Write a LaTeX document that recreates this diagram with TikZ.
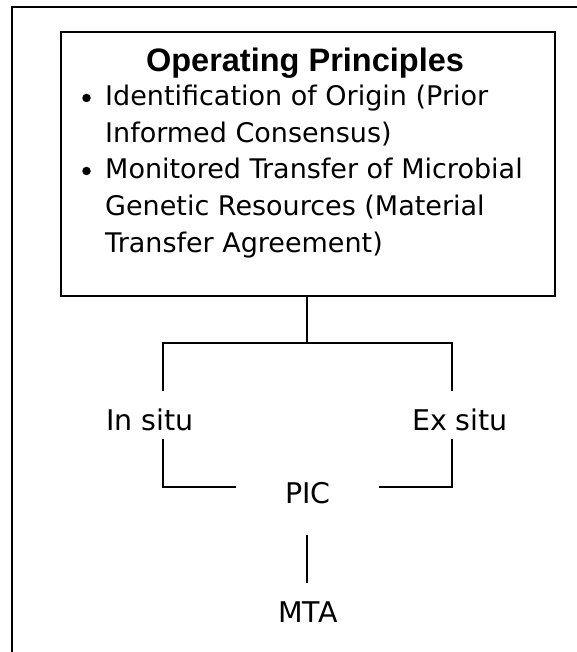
\documentclass[tikz,border=0pt]{standalone}
\usepackage{fontspec}
\setmainfont{DejaVu Sans}
\newfontfamily\headfont{Liberation Sans}
\begin{document}
\begin{tikzpicture}[x=1pt,y=-1pt,
  frame/.style={line width=2pt},
  link/.style={line width=1.5pt},
  body/.style={inner sep=0pt,font=\fontsize{27}{32}\selectfont},
  label/.style={inner sep=0pt,font=\fontsize{28.5}{32}\selectfont},
  headline/.style={inner sep=0pt,font=\headfont\bfseries\fontsize{32.5}{36}\selectfont},
  dot/.style={circle,fill=black,inner sep=0pt,minimum size=8.5pt}]
\useasboundingbox (0,0) rectangle (577,652);
% open outer frame: top and left edges only
\draw[frame] (12,652) -- (12,7) -- (577,7);
% principles box
\node[draw,frame,minimum width=494pt,minimum height=264pt,inner sep=0pt,anchor=north west] (box) at (60,31) {};
\node[headline,anchor=base] (title) at (305,71.7) {Operating Principles};
\node[dot] (b1) at (86.5,98) {};
\node[body,anchor=base west] (l1) at (105,106) {Identification of Origin (Prior};
\node[body,anchor=base west] (l2) at (105,142.5) {Informed Consensus)};
\node[dot] (b2) at (86.5,171) {};
\node[body,anchor=base west] (l3) at (105,179) {Monitored Transfer of Microbial};
\node[body,anchor=base west] (l4) at (105,215.7) {Genetic Resources (Material};
\node[body,anchor=base west] (l5) at (105,252.5) {Transfer Agreement)};
% branch labels
\node[label,anchor=base] (insitu) at (150,430) {In situ};
\node[label,anchor=base] (exsitu) at (460,430) {Ex situ};
\node[label,anchor=base] (pic) at (308,503) {PIC};
\node[label,anchor=base] (mta) at (308,622) {MTA};
% connector points
\coordinate (split) at (307,343);
\coordinate (lt) at (163,343);
\coordinate (rt) at (452,343);
\coordinate (la) at (163,391);
\coordinate (ra) at (452,391);
\coordinate (lb) at (163,439);
\coordinate (rb) at (452,439);
\coordinate (lc) at (163,487);
\coordinate (rc) at (452,487);
\coordinate (pl) at (236,487);
\coordinate (pr) at (379,487);
\coordinate (pd) at (307,535);
\coordinate (mu) at (307,583);
% connectors
\draw[link] (box.south -| split) -- (split);
\draw[link] (la) -- (lt) -- (rt) -- (ra);
\draw[link] (lb) -- (lc) -- (pl);
\draw[link] (pr) -- (rc) -- (rb);
\draw[link] (pd) -- (mu);
\end{tikzpicture}
\end{document}
